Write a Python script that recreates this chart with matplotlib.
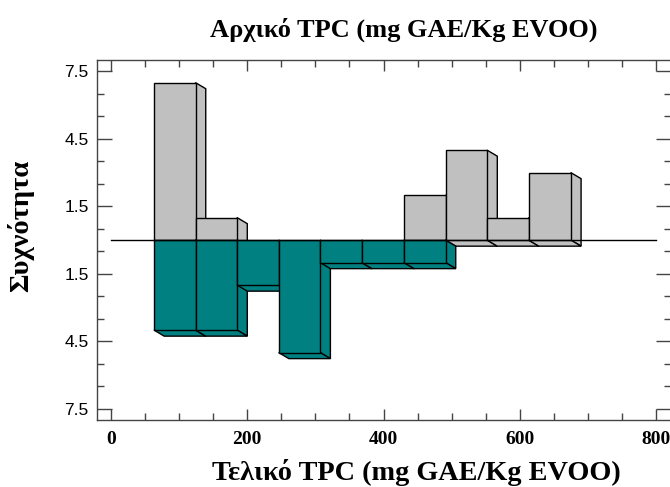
import matplotlib
matplotlib.use('Agg')
import matplotlib.pyplot as plt
from matplotlib.patches import Polygon
import numpy as np

# ---------------------- DATA
bin_edges = [63, 124, 185, 246, 307, 368, 430, 491, 552, 613, 675]
counts_initial = [7, 1, 0, 0, 0, 0, 2, 4, 1, 3]     # Αρχικό TPC (upwards)
counts_final = [4, 4, 2, 5, 1, 1, 1, 0, 0, 0]       # Τελικό TPC (downwards)

ytick_vals = [-7.5, -4.5, -1.5, 1.5, 4.5, 7.5]
ytick_labels = ['7.5', '4.5', '1.5', '1.5', '4.5', '7.5']

# ---------------------- STYLE
grey = '#c0c0c0'
teal = '#008080'
DX, DY = 15.0, 0.27        # 3D depth offset in data units
serif = 'Liberation Serif'
sans = 'Liberation Sans'


def bar3d(ax, x0, x1, y0, y1, color):
    """front face from y0 (top) to y1 (bottom), with right + bottom depth faces"""
    side = [(x1, y0), (x1 + DX, y0 - DY), (x1 + DX, y1 - DY), (x1, y1)]
    bottom = [(x0, y1), (x1, y1), (x1 + DX, y1 - DY), (x0 + DX, y1 - DY)]
    front = [(x0, y0), (x1, y0), (x1, y1), (x0, y1)]
    for pts in (side, bottom, front):
        ax.add_patch(Polygon(pts, closed=True, facecolor=color,
                             edgecolor='black', linewidth=1.0))


fig = plt.figure(figsize=(6.7, 4.87), dpi=100)
ax = fig.add_axes([0.1448, 0.1375, 0.8567, 0.739])

for i, c in enumerate(counts_initial):
    if c > 0:
        bar3d(ax, bin_edges[i], bin_edges[i + 1], c, 0, grey)
for i, c in enumerate(counts_final):
    if c > 0:
        bar3d(ax, bin_edges[i], bin_edges[i + 1], 0, -c, teal)

ax.plot([0, 800], [0, 0], color='black', linewidth=1.0, zorder=5)

ax.set_xlim(-20.6, 822)
ax.set_ylim(-8, 8)

ax.set_xticks(np.arange(0, 801, 200))
ax.set_xticks(np.arange(0, 801, 50), minor=True)
ax.set_yticks(ytick_vals)
ax.set_yticklabels(ytick_labels)
ax.set_yticks([v for v in np.arange(-7.5, 7.6, 1.0) if v not in ytick_vals], minor=True)

ax.tick_params(which='both', direction='in', top=True, right=True,
               color='#444444', width=1.0)
ax.tick_params(which='major', length=8)
ax.tick_params(which='minor', length=5)
ax.tick_params(axis='y', which='major', length=11, pad=6)
ax.tick_params(axis='x', pad=8)

for lab in ax.get_xticklabels():
    lab.set_fontfamily(serif)
    lab.set_fontweight('bold')
    lab.set_fontsize(14)
for lab in ax.get_yticklabels():
    lab.set_fontfamily(sans)
    lab.set_fontsize(12.5)

for s in ax.spines.values():
    s.set_color('#444444')
    s.set_linewidth(1.0)

fig.text(0.602, 0.938, 'Αρχικό TPC (mg GAE/Kg EVOO)', ha='center', va='center',
         fontfamily=serif, fontweight='bold', fontsize=19)
fig.text(0.621, 0.029, 'Τελικό TPC (mg GAE/Kg EVOO)', ha='center', va='center',
         fontfamily=serif, fontweight='bold', fontsize=20.3)
fig.text(0.031, 0.536, 'Συχνότητα', ha='center', va='center', rotation=90,
         fontfamily=serif, fontweight='bold', fontsize=20.5)

fig.savefig('out.png', dpi=100)
plt.close()
